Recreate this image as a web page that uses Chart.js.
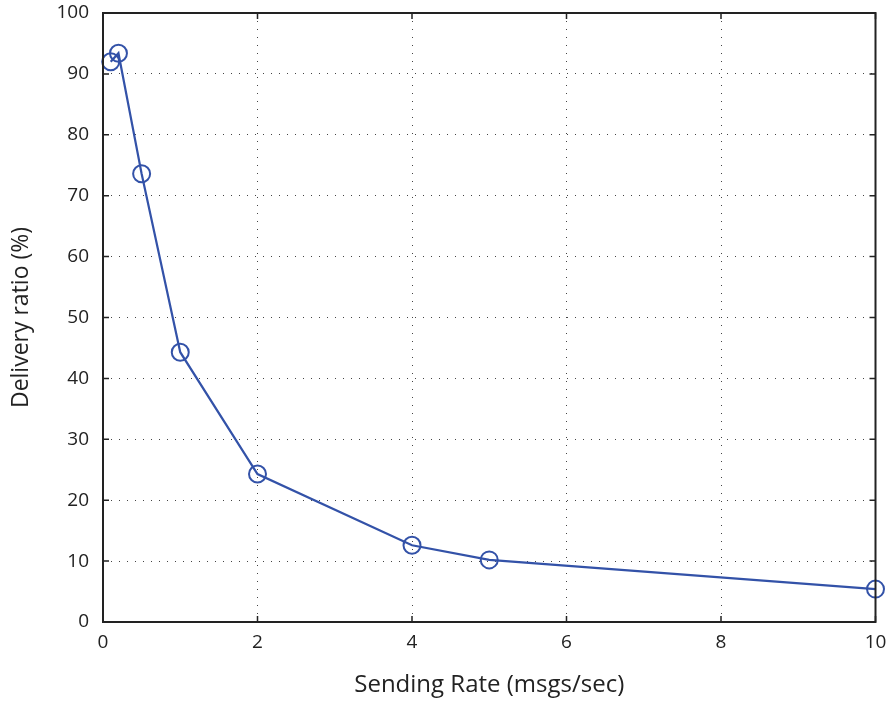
<!DOCTYPE html>
<html>
<head>
<meta charset="utf-8">
<script src="https://cdn.jsdelivr.net/npm/chart.js@4"></script>
<style>
  body { margin: 0; background: #fff; }
  #wrap { width: 886px; height: 704px; }
</style>
</head>
<body>
<div id="wrap"><canvas id="c" width="886" height="704"></canvas></div>
<script>
// sending rate (msgs/sec) vs delivery ratio (%)
var rates = [0.1, 0.2, 0.5, 1, 2, 4, 5, 10];
var ratio = [92.0, 93.4, 73.6, 44.3, 24.3, 12.6, 10.2, 5.4];
var xTicks = [0, 2, 4, 6, 8, 10];
var yTicks = [0, 10, 20, 30, 40, 50, 60, 70, 80, 90, 100];

var ink = '#222';
var blue = '#3352a8';

// box round the plot and inward tick marks
var frame = {
  id: 'frame',
  afterDraw: function (chart) {
    var a = chart.chartArea, ctx = chart.ctx;
    var sx = chart.scales.x, sy = chart.scales.y;
    ctx.save();
    ctx.setLineDash([]);
    ctx.lineDashOffset = 0;
    ctx.globalAlpha = 1;
    ctx.strokeStyle = ink;
    ctx.lineWidth = 1.5;
    ctx.beginPath();
    xTicks.forEach(function (v) {
      var px = sx.getPixelForValue(v);
      ctx.moveTo(px, a.bottom); ctx.lineTo(px, a.bottom - 6);
      ctx.moveTo(px, a.top); ctx.lineTo(px, a.top + 6);
    });
    yTicks.forEach(function (v) {
      var py = sy.getPixelForValue(v);
      ctx.moveTo(a.left, py); ctx.lineTo(a.left + 6, py);
      ctx.moveTo(a.right, py); ctx.lineTo(a.right - 6, py);
    });
    ctx.stroke();
    ctx.lineWidth = 2;
    ctx.beginPath();
    ctx.rect(a.left, a.top, a.right - a.left, a.bottom - a.top);
    ctx.stroke();
    ctx.restore();
  }
};

new Chart(document.getElementById('c'), {
  type: 'line',
  data: {
    datasets: [{
      data: rates.map(function (r, i) { return { x: r, y: ratio[i] }; }),
      borderColor: blue,
      borderWidth: 2.2,
      pointRadius: 8.5,
      pointBorderWidth: 2,
      pointBorderColor: blue,
      pointBackgroundColor: 'rgba(0,0,0,0)',
      pointHoverRadius: 8.5,
      tension: 0,
      clip: false
    }]
  },
  options: {
    responsive: false,
    animation: false,
    layout: { padding: { left: 0, right: 9, top: 13, bottom: 0 } },
    plugins: { legend: { display: false }, tooltip: { enabled: false } },
    scales: {
      x: {
        type: 'linear',
        min: 0, max: 10,
        afterBuildTicks: function (s) { s.ticks = xTicks.map(function (v) { return { value: v }; }); },
        afterFit: function (s) { s.height = 82; s.paddingLeft = 0; s.paddingRight = 0; },
        border: { display: false, dash: [1, 7] },
        grid: { color: '#444', lineWidth: 1, drawTicks: false },
        ticks: { color: ink, padding: 9, maxRotation: 0, font: { family: 'Open Sans', size: 19 } },
        title: {
          display: true, text: 'Sending Rate (msgs/sec)', color: ink,
          font: { family: 'Open Sans', size: 24 }, padding: { top: 16 }
        }
      },
      y: {
        min: 0, max: 100,
        afterBuildTicks: function (s) { s.ticks = yTicks.map(function (v) { return { value: v }; }); },
        afterFit: function (s) { s.width = 103; s.paddingTop = 0; s.paddingBottom = 0; },
        border: { display: false, dash: [1, 7] },
        grid: { color: '#444', lineWidth: 1, drawTicks: false },
        ticks: { color: ink, padding: 14, font: { family: 'Open Sans', size: 19 } },
        title: {
          display: true, text: 'Delivery ratio (%)', color: ink,
          font: { family: 'Open Sans', size: 23 }, padding: { top: 8, bottom: 4 }
        }
      }
    }
  },
  plugins: [frame]
});
</script>
</body>
</html>
